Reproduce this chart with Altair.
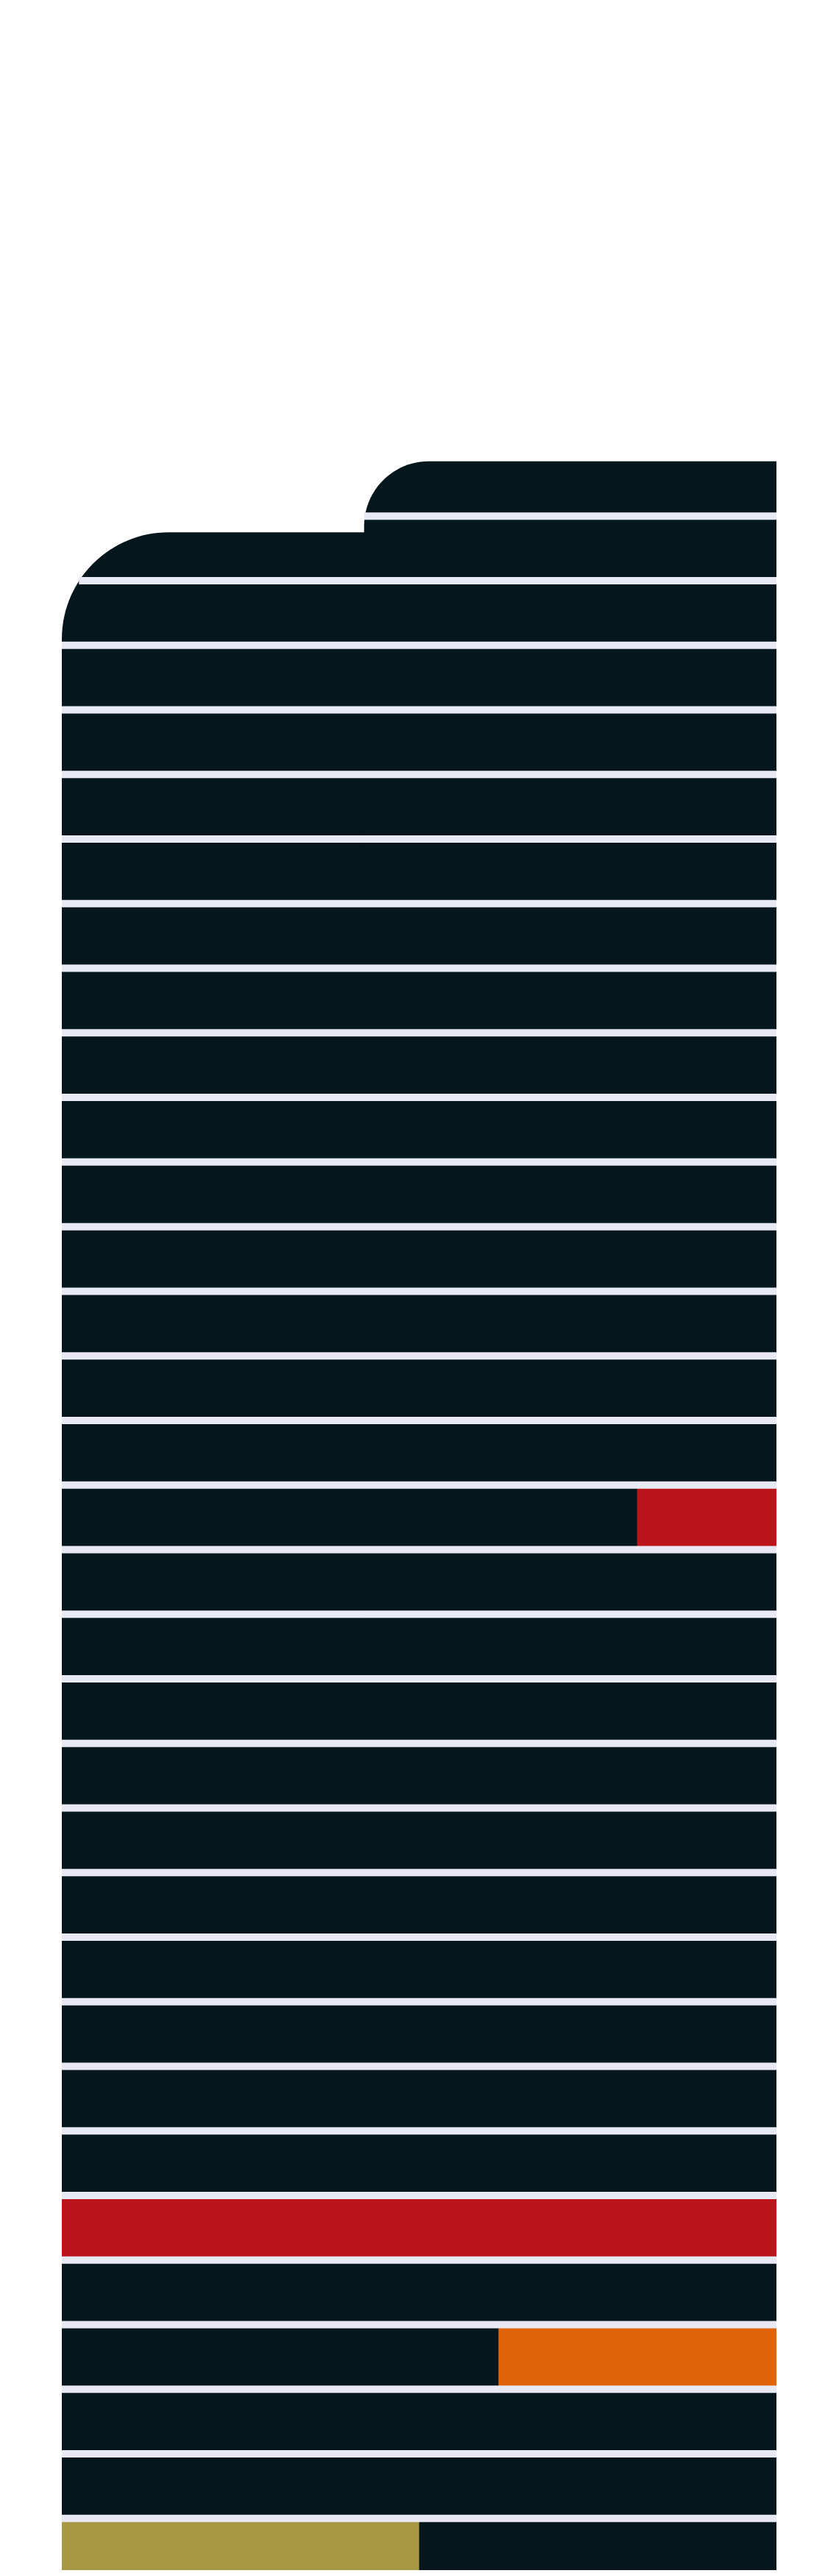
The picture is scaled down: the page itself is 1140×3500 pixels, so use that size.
import altair as alt
import pandas as pd

# Tower body blocks (x in % of width, y in floor levels)
block_names = ["lower crown", "upper crown"]
block_x0 = [0.0, 42.3]
block_x1 = [100.0, 100.0]
block_bottom = [0.0, 0.0]
block_top = [31.75, 32.85]

# Highlighted floor segments
seg_kind = ["red", "red", "orange", "olive"]
seg_x0 = [80.5, 0.0, 61.1, 0.0]
seg_x1 = [100.0, 100.0, 100.0, 50.0]
seg_bottom = [16, 5, 3, 0]
seg_top = [17, 6, 4, 1]

# Floor separators (only across the tower's width at that level)
sep_levels = list(range(1, 33))
sep_x0 = [0.0] * 30 + [2.4, 42.3]
sep_x1 = [100.0] * 32

kind_domain = ["red", "orange", "olive"]
kind_colors = ["#BB141B", "#E1630A", "#A99843"]
dark = "#05161D"
sep_color = "#E8E9F2"

blocks = pd.DataFrame({"name": block_names, "x0": block_x0, "x1": block_x1,
                       "y0": block_bottom, "y1": block_top})
segs = pd.DataFrame({"kind": seg_kind, "x0": seg_x0, "x1": seg_x1,
                     "y0": seg_bottom, "y1": seg_top})
seps = pd.DataFrame({"level": sep_levels, "x0": sep_x0, "x1": sep_x1})

xs = alt.Scale(domain=[0, 100], nice=False, zero=False)
ys = alt.Scale(domain=[0.2, 39.9], nice=False, zero=False)

def enc(base):
    return base.encode(
        x=alt.X("x0:Q", scale=xs, axis=None),
        x2="x1:Q",
        y=alt.Y("y0:Q", scale=ys, axis=None),
        y2="y1:Q",
    )

lower = enc(alt.Chart(blocks[blocks["name"] == "lower crown"]).mark_rect(
    color=dark, cornerRadiusTopLeft=145, clip=True))
upper = enc(alt.Chart(blocks[blocks["name"] == "upper crown"]).mark_rect(
    color=dark, cornerRadiusTopLeft=88, clip=True))
highlights = enc(alt.Chart(segs).mark_rect(clip=True)).encode(
    color=alt.Color("kind:N", scale=alt.Scale(domain=kind_domain, range=kind_colors),
                    legend=None)
)
separators = alt.Chart(seps).mark_rule(color=sep_color, strokeWidth=10, clip=True).encode(
    x=alt.X("x0:Q", scale=xs, axis=None),
    x2="x1:Q",
    y=alt.Y("level:Q", scale=ys, axis=None),
)

chart = alt.layer(lower, upper, highlights, separators).properties(
    width=971, height=3484,
    padding={"left": 76, "top": 0, "right": 0, "bottom": 0},
    autosize=alt.AutoSizeParams(type="none"),
    background="white",
).configure_view(strokeWidth=0, stroke="transparent")

chart.save("out.html", embed_options={"renderer": "svg", "actions": False})
